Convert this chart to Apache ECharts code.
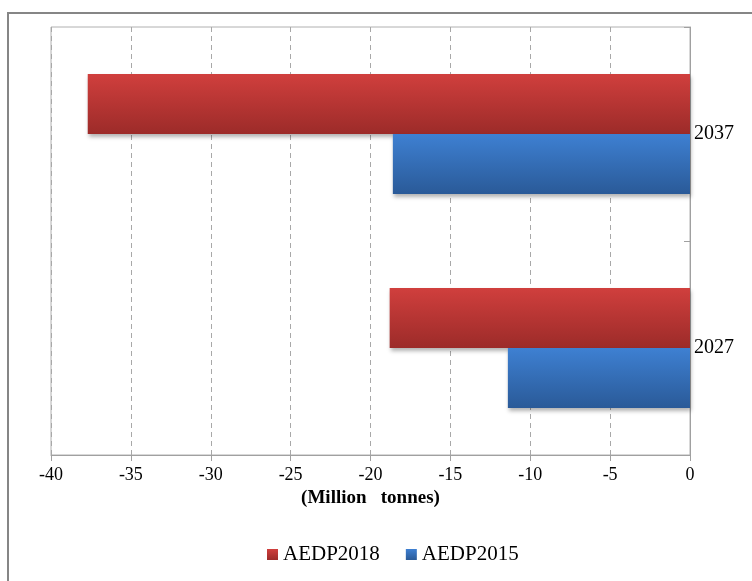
<!DOCTYPE html>
<html>
<head>
<meta charset="utf-8">
<script src="https://cdn.jsdelivr.net/npm/echarts@6/dist/echarts.min.js"></script>
<style>html,body{margin:0;padding:0;background:#fff;}#c{width:752px;height:581px;}</style>
</head>
<body>
<div id="c"></div>
<script>
var categories = ['2037', '2027'];
var seriesNames = ['AEDP2018', 'AEDP2015'];
var aedp2018 = [-37.7, -18.8];
var aedp2015 = [-18.6, -11.4];
var xTicks = { min: -40, max: 0, interval: 5 };

var chart = echarts.init(document.getElementById('c'), null, { renderer: 'canvas' });
function grad(top, bottom) {
  return new echarts.graphic.LinearGradient(0, 0, 0, 1, [
    { offset: 0, color: top }, { offset: 1, color: bottom }
  ]);
}
var font = '"Liberation Serif", "Times New Roman", serif';
chart.setOption({
  animation: false,
  backgroundColor: '#fff',
  graphic: [{
    type: 'rect', shape: { x: 8, y: 13, width: 750, height: 575 },
    style: { fill: 'none', stroke: '#868686', lineWidth: 2 }, silent: true, z: -1
  }],
  grid: { left: 51, right: 62, top: 27, bottom: 126, show: true, borderColor: '#b0b0b0', borderWidth: 1 },
  legend: {
    data: seriesNames, left: 262, top: 539, itemWidth: 11, itemHeight: 11, itemGap: 26,
    icon: 'rect',
    textStyle: { fontFamily: font, fontSize: 21, color: '#000' }
  },
  xAxis: {
    type: 'value', min: xTicks.min, max: xTicks.max, interval: xTicks.interval,
    axisLine: { show: true, lineStyle: { color: '#a0a0a0' } },
    axisTick: { show: true, length: 6, lineStyle: { color: '#a0a0a0' } },
    splitLine: { show: true, lineStyle: { color: '#a8a8a8', type: [5, 4] } },
    axisLabel: { fontFamily: font, fontSize: 18, color: '#000', margin: 11 },
    name: '(Million   tonnes)', nameLocation: 'middle', nameGap: 29,
    nameTextStyle: { fontFamily: font, fontSize: 19, fontWeight: 'bold', color: '#000' }
  },
  yAxis: {
    type: 'category', data: categories, position: 'right', inverse: true,
    axisLine: { show: true, lineStyle: { color: '#a0a0a0' } },
    axisTick: { show: true, inside: true, length: 6, lineStyle: { color: '#a0a0a0' } },
    axisLabel: { fontFamily: font, fontSize: 20, color: '#000', margin: 4 },
    splitLine: { show: false }
  },
  series: [
    {
      name: 'AEDP2018', type: 'bar', data: aedp2018, barWidth: 60, barGap: '0%',
      itemStyle: { color: grad('#d03f3d', '#9c2b29'), shadowBlur: 4, shadowOffsetY: 3, shadowOffsetX: 1, shadowColor: 'rgba(0,0,0,0.3)' }
    },
    {
      name: 'AEDP2015', type: 'bar', data: aedp2015, barWidth: 60, barGap: '0%',
      itemStyle: { color: grad('#3e80d2', '#2a5a98'), shadowBlur: 4, shadowOffsetY: 3, shadowOffsetX: 1, shadowColor: 'rgba(0,0,0,0.3)' }
    }
  ]
});
</script>
</body>
</html>
